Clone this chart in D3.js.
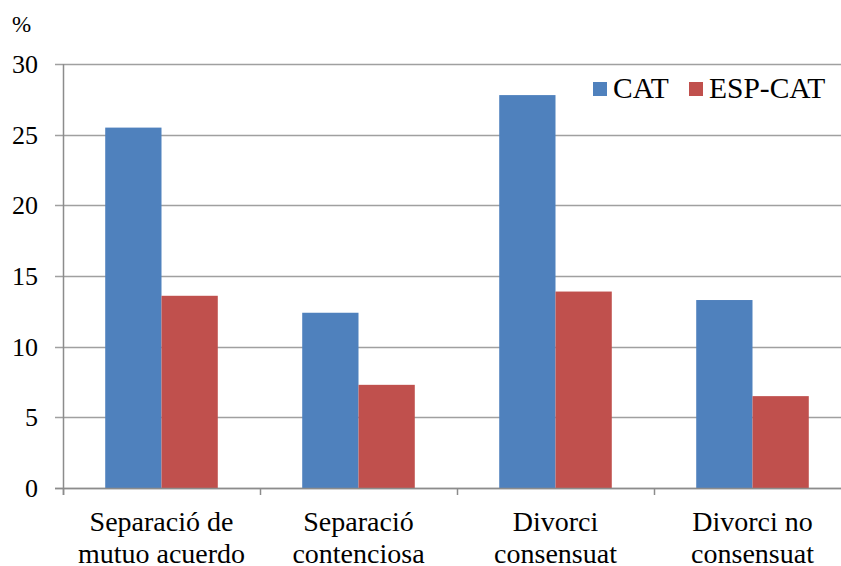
<!DOCTYPE html>
<html>
<head>
<meta charset="utf-8">
<script src="https://cdn.jsdelivr.net/npm/d3@7"></script>
<style>
  body { margin: 0; background: #fff; }
</style>
</head>
<body>
<svg id="chart" width="841" height="566"></svg>
<script>
// data
const categories = [['Separació de', 'mutuo acuerdo'], ['Separació', 'contenciosa'], ['Divorci', 'consensuat'], ['Divorci no', 'consensuat']]
const seriesNames = ['CAT', 'ESP-CAT']
const catValues = [25.5, 12.4, 27.8, 13.3]
const espCatValues = [13.6, 7.3, 13.9, 6.5]
const yTicks = [0, 5, 10, 15, 20, 25, 30]
const colors = ['#4F81BD', '#C0504D']

const serif = "'Liberation Serif', 'Times New Roman', Times, serif"
const margin = { top: 64, bottom: 78, left: 63, right: -10 }
const width = 841, height = 566
const svg = d3.select('#chart')
  .attr('font-family', serif)

const x = d3.scaleBand()
  .domain(d3.range(categories.length))
  .range([margin.left, width - margin.right])
  .paddingInner(0).paddingOuter(0)

const inner = d3.scaleBand()
  .domain(seriesNames)
  .range([0, x.bandwidth()])
  .paddingInner(0)
  .paddingOuter(0.75)

const y = d3.scaleLinear()
  .domain([0, 30])
  .range([height - margin.bottom, margin.top])

// gridlines
svg.append('g')
  .selectAll('line')
  .data(yTicks)
  .enter().append('line')
  .attr('x1', margin.left - 8)
  .attr('x2', width)
  .attr('y1', d => Math.round(y(d)) + 0.5)
  .attr('y2', d => Math.round(y(d)) + 0.5)
  .attr('stroke', '#a0a0a0')
  .attr('stroke-width', 1.5)

// y tick labels
svg.append('g')
  .selectAll('text')
  .data(yTicks)
  .enter().append('text')
  .attr('x', 38)
  .attr('y', d => y(d) + 9)
  .attr('text-anchor', 'end')
  .attr('font-family', serif)
  .style('font-size', '26px')
  .text(d => d)

svg.append('text')
  .attr('x', 12)
  .attr('y', 32)
  .attr('font-family', serif)
  .style('font-size', '23px')
  .text('%')

// bars
const data = d3.range(categories.length).map(i => ({ i, values: [catValues[i], espCatValues[i]] }))

svg.append('g')
  .selectAll('g')
  .data(data)
  .enter().append('g')
  .attr('transform', d => `translate(${x(d.i)},0)`)
  .selectAll('rect')
  .data(d => d.values.map((v, k) => ({ name: seriesNames[k], v, k })))
  .enter().append('rect')
  .attr('x', d => inner(d.name))
  .attr('width', inner.bandwidth())
  .attr('y', d => y(d.v))
  .attr('height', d => y(0) - y(d.v))
  .attr('fill', d => colors[d.k])

// axes
svg.append('line')
  .attr('x1', margin.left + 0.5).attr('x2', margin.left + 0.5)
  .attr('y1', y(30)).attr('y2', y(0) + 7)
  .attr('stroke', '#8c8c8c').attr('stroke-width', 1.5)

svg.append('line')
  .attr('x1', margin.left - 8).attr('x2', width)
  .attr('y1', Math.round(y(0)) + 0.5).attr('y2', Math.round(y(0)) + 0.5)
  .attr('stroke', '#8c8c8c').attr('stroke-width', 1.5)

svg.append('g')
  .selectAll('line')
  .data(d3.range(categories.length))
  .enter().append('line')
  .attr('x1', d => x(d) + 0.5).attr('x2', d => x(d) + 0.5)
  .attr('y1', y(0)).attr('y2', y(0) + 7)
  .attr('stroke', '#8c8c8c').attr('stroke-width', 1.5)

// category labels
const labels = svg.append('g')
  .selectAll('text')
  .data(categories)
  .enter().append('text')
  .attr('text-anchor', 'middle')
  .attr('font-family', serif)
  .style('font-size', '28px')

labels.selectAll('tspan')
  .data((d, i) => d.map(line => ({ line, i })))
  .enter().append('tspan')
  .attr('x', d => x(d.i) + x.bandwidth() / 2)
  .attr('y', (d, j) => 531 + j * 32)
  .text(d => d.line)

// legend
const legendPos = [593, 689]
const legend = svg.append('g')
  .selectAll('g')
  .data(seriesNames)
  .enter().append('g')
  .attr('transform', (d, i) => `translate(${legendPos[i]},82)`)

legend.append('rect')
  .attr('width', 14).attr('height', 14)
  .attr('fill', (d, i) => colors[i])

legend.append('text')
  .attr('x', 20).attr('y', 16)
  .attr('font-family', serif)
  .style('font-size', '29.5px')
  .text(d => d)
</script>
</body>
</html>
